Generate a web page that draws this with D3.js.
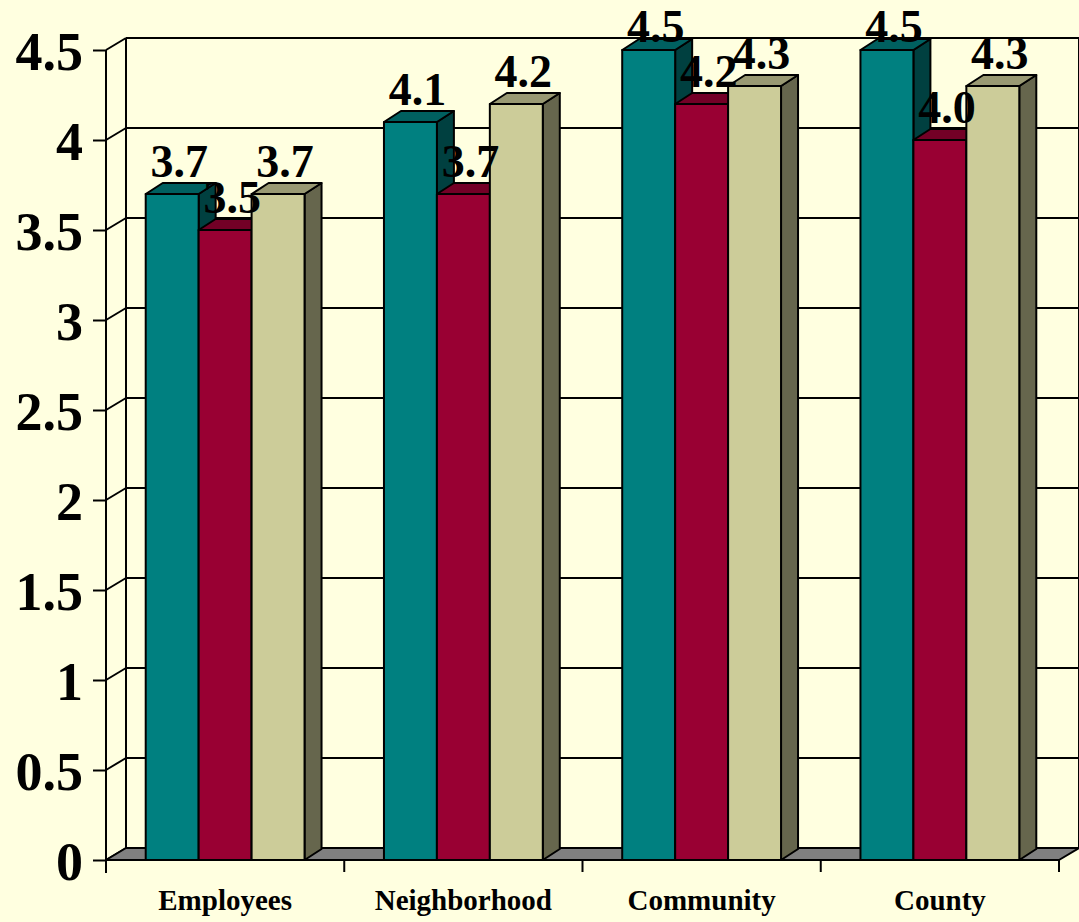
<!DOCTYPE html>
<html>
<head>
<meta charset="UTF-8"/>
<script src="https://d3js.org/d3.v7.min.js"></script>
<style>
  body { margin: 0; background: #FFFFE0; }
  svg { display: block; }
  text { font-family: "Liberation Serif", "Times New Roman", serif; font-weight: bold; fill: #000; }
</style>
</head>
<body>
<svg id="chart" width="1079" height="922"></svg>
<script>
  // data
  var categories = ["Employees", "Neighborhood", "Community", "County"];
  var seriesNames = ["Series 1", "Series 2", "Series 3"];
  var series1 = [3.7, 4.1, 4.5, 4.5];
  var series2 = [3.5, 3.7, 4.2, 4.0];
  var series3 = [3.7, 4.2, 4.3, 4.3];
  var yTicks = [0, 0.5, 1, 1.5, 2, 2.5, 3, 3.5, 4, 4.5];

  var allSeries = [series1, series2, series3];
  var fronts = ["#008080", "#990033", "#CCCC99"];
  var tops   = ["#006060", "#730026", "#999973"];
  var sides  = ["#004040", "#4d001a", "#66664d"];

  var left = 106, right = 1059, base = 860, topY = 50;
  var wallDx = 20, wallDy = -12;   // back wall offset
  var barDx = 17, barDy = -11;     // bar depth

  var svg = d3.select("#chart");
  svg.append("rect").attr("width", 1079).attr("height", 922).attr("fill", "#FFFFE0");

  var y = d3.scaleLinear().domain([0, 4.5]).range([base, topY]);
  var x0 = d3.scaleBand().domain(categories).range([left, right]).padding(0);
  var bw = x0.bandwidth();
  var x1 = d3.scaleBand().domain(seriesNames).range([bw / 6, bw * 5 / 6]).padding(0);

  var line = function(x1_, y1_, x2_, y2_) {
    svg.append("line")
      .attr("x1", x1_).attr("y1", y1_).attr("x2", x2_).attr("y2", y2_)
      .attr("stroke", "#000").attr("stroke-width", 2);
  };

  // back wall
  var wall = svg.append("g");
  yTicks.forEach(function(v) {
    if (v > 0) line(left + wallDx, y(v) + wallDy, right + wallDx, y(v) + wallDy);
    line(left, y(v), left + wallDx, y(v) + wallDy);
  });
  line(left + wallDx, y(4.5) + wallDy, left + wallDx, base + wallDy);
  line(right + wallDx, y(4.5) + wallDy, right + wallDx, base + wallDy);

  // floor
  svg.append("path")
    .attr("d", "M" + left + "," + base + "L" + (left + wallDx) + "," + (base + wallDy) +
      "L" + (right + wallDx) + "," + (base + wallDy) + "L" + right + "," + base + "Z")
    .attr("fill", "#808080").attr("stroke", "#000").attr("stroke-width", 2)
    .attr("stroke-linejoin", "round");

  // y axis
  var yAxis = d3.axisLeft(y).tickValues(yTicks).tickSize(13).tickPadding(10)
    .tickFormat(function(d) { return String(d); });
  var gy = svg.append("g").attr("transform", "translate(" + left + ",0)").call(yAxis);
  gy.select(".domain").remove();
  gy.selectAll(".tick line").attr("stroke", "#000").attr("stroke-width", 2);
  gy.selectAll(".tick text")
    .attr("dy", "0.36em")
    .style("font-size", "54px")
    .style("font-family", "'Liberation Serif', 'Times New Roman', serif")
    .style("font-weight", "bold")
    .attr("fill", "#000");
  line(left, y(4.5), left, base + 13);

  // bars
  var bars = svg.append("g").attr("stroke", "#000").attr("stroke-width", 2).attr("stroke-linejoin", "round");
  categories.forEach(function(c, ci) {
    allSeries.forEach(function(s, si) {
      var bx = x0(c) + x1(seriesNames[si]);
      var w = x1.bandwidth();
      var by = y(s[ci]);
      var g = bars.append("g");
      g.append("path")
        .attr("d", "M" + (bx + w) + "," + by + "L" + (bx + w + barDx) + "," + (by + barDy) +
          "L" + (bx + w + barDx) + "," + (base + barDy) + "L" + (bx + w) + "," + base + "Z")
        .attr("fill", sides[si]);
      g.append("path")
        .attr("d", "M" + bx + "," + by + "L" + (bx + barDx) + "," + (by + barDy) +
          "L" + (bx + w + barDx) + "," + (by + barDy) + "L" + (bx + w) + "," + by + "Z")
        .attr("fill", tops[si]);
      g.append("rect")
        .attr("x", bx).attr("y", by).attr("width", w).attr("height", base - by)
        .attr("fill", fronts[si]);
    });
  });

  // category axis
  line(left, base, right, base);
  x0.domain().forEach(function(c) { line(x0(c), base, x0(c), base + 12); });
  line(right, base, right, base + 12);
  svg.append("g").selectAll("text")
    .data(categories)
    .join("text")
    .attr("x", function(d) { return x0(d) + bw / 2; })
    .attr("y", 910)
    .attr("text-anchor", "middle")
    .style("font-size", "29px")
    .text(function(d) { return d; });

  // value labels
  var labels = svg.append("g");
  categories.forEach(function(c, ci) {
    allSeries.forEach(function(s, si) {
      var bx = x0(c) + x1(seriesNames[si]);
      labels.append("text")
        .attr("x", bx + x1.bandwidth() / 2 + 7)
        .attr("y", Math.max(y(s[ci]) - 17, 42))
        .attr("text-anchor", "middle")
        .style("font-size", "46px")
        .text(d3.format(".1f")(s[ci]));
    });
  });
</script>
</body>
</html>
